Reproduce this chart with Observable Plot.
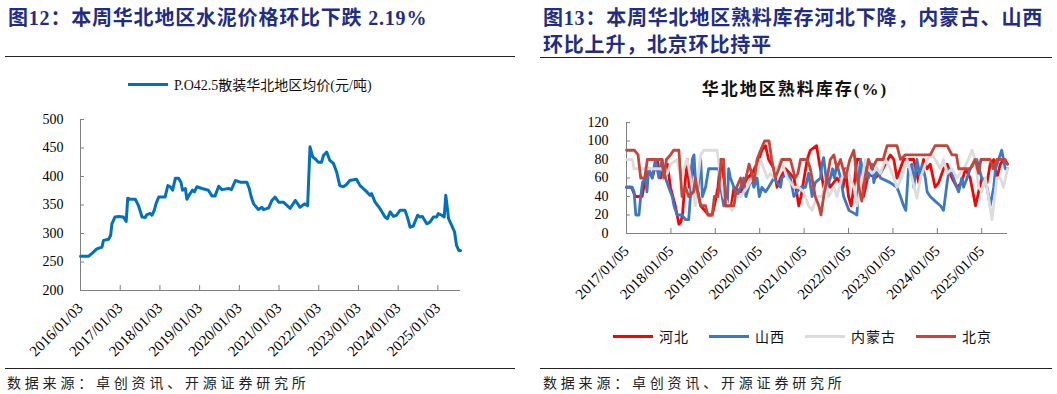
<!DOCTYPE html>
<html><head><meta charset="utf-8">
<script src="https://cdn.jsdelivr.net/npm/d3@7"></script>
<script src="https://cdn.jsdelivr.net/npm/@observablehq/plot@0.6"></script>
<style>
body{margin:0;background:#fff;width:1057px;height:394px;position:relative;overflow:hidden;font-family:"Liberation Serif","Noto Sans CJK SC",serif;}
.abs{position:absolute;white-space:nowrap;}
.title{font-family:"Liberation Serif","Noto Sans CJK SC",serif;font-weight:bold;color:#1f2d86;font-size:20px;letter-spacing:0.8px;line-height:27px;}
.rule{position:absolute;height:0;border-top:1.3px solid #222;}
.src{font-size:14px;letter-spacing:3.8px;color:#222;}
.leg{font-size:14px;color:#111;display:flex;align-items:center;}
.sw{display:inline-block;width:40px;height:3px;margin-right:6px;}
</style></head><body>
<div class="abs title" style="left:8px;top:5px;">图12：本周华北地区水泥价格环比下跌 2.19%</div>
<div class="rule" style="left:5px;top:56px;width:510px;"></div>
<div class="abs leg" style="left:128px;top:74px;"><span class="sw" style="background:#0070C0"></span><span>P.O42.5散装华北地区均价(元/吨)</span></div>
<div id="left" class="abs" style="left:0;top:100px;"></div>
<div class="rule" style="left:5px;top:368px;width:510px;"></div>
<div class="abs src" style="left:7px;top:372px;">数据来源：卓创资讯、开源证券研究所</div>

<div class="abs title" style="left:543px;top:5px;width:512px;white-space:normal;">图13：本周华北地区熟料库存河北下降，内蒙古、山西环比上升，北京环比持平</div>
<div class="rule" style="left:540px;top:57px;width:512px;"></div>
<div class="abs" style="left:695px;top:75px;width:200px;text-align:center;font-weight:bold;font-size:17px;letter-spacing:2px;color:#111;">华北地区熟料库存(%)</div>
<div id="right" class="abs" style="left:530px;top:110px;"></div>
<div id="rleg" class="abs leg" style="left:613px;top:326px;"></div>
<div class="rule" style="left:540px;top:368px;width:512px;"></div>
<div class="abs src" style="left:543px;top:372px;">数据来源：卓创资讯、开源证券研究所</div>

<script>
// ---------- left chart data ----------
const cementYears = [2016.00,2016.20,2016.29,2016.41,2016.54,2016.58,2016.71,2016.76,2016.79,2016.87,2016.96,2017.08,2017.15,2017.19,2017.25,2017.38,2017.46,2017.55,2017.63,2017.67,2017.76,2017.80,2017.86,2017.90,2017.97,2018.13,2018.20,2018.26,2018.32,2018.39,2018.47,2018.53,2018.57,2018.64,2018.68,2018.76,2018.82,2018.87,2018.93,2019.06,2019.22,2019.31,2019.39,2019.48,2019.56,2019.73,2019.80,2019.90,2020.02,2020.19,2020.25,2020.30,2020.36,2020.48,2020.57,2020.61,2020.74,2020.82,2020.90,2020.99,2021.11,2021.28,2021.41,2021.53,2021.64,2021.72,2021.78,2021.85,2021.91,2021.99,2022.07,2022.12,2022.20,2022.28,2022.37,2022.45,2022.53,2022.62,2022.70,2022.78,2022.95,2023.04,2023.12,2023.21,2023.29,2023.33,2023.42,2023.54,2023.67,2023.73,2023.80,2023.88,2023.96,2024.05,2024.17,2024.24,2024.30,2024.38,2024.49,2024.55,2024.61,2024.72,2024.80,2024.89,2024.97,2025.01,2025.10,2025.16,2025.20,2025.27,2025.35,2025.42,2025.47,2025.53,2025.57];
const cementPrices = [260,260,265,273,276,288,290,297,317,329,330,329,321,362,360,360,349,329,328,333,335,332,341,352,364,364,384,382,376,397,397,390,376,379,360,370,376,373,382,379,376,366,366,383,377,379,377,393,390,390,379,364,352,342,346,342,345,358,364,355,355,344,358,346,352,349,452,434,431,425,425,437,443,428,423,408,384,382,386,393,395,384,379,373,367,370,355,344,329,326,338,330,332,341,341,327,311,313,332,329,330,317,320,329,329,335,332,329,367,326,314,303,279,270,270];
const leftTickYears = [2016,2017,2018,2019,2020,2021,2022,2023,2024,2025];
const leftTickLabels = ["2016/01/03","2017/01/03","2018/01/03","2019/01/03","2020/01/03","2021/01/03","2022/01/03","2023/01/03","2024/01/03","2025/01/03"];
const leftYTicks = [200,250,300,350,400,450,500];

// ---------- right chart data ----------
const seriesNames = ["河北","山西","内蒙古","北京"];
const seriesColors = ["#FF0000","#3B78C6","#DCDCDC","#C5453A"];
const hebeiYears = [2017.00,2017.05,2017.11,2017.20,2017.35,2017.39,2017.43,2017.50,2017.58,2017.69,2017.77,2017.80,2017.92,2017.99,2018.10,2018.14,2018.18,2018.22,2018.26,2018.31,2018.37,2018.41,2018.48,2018.55,2018.67,2018.85,2018.93,2018.98,2019.06,2019.12,2019.19,2019.27,2019.36,2019.42,2019.57,2019.72,2019.83,2019.98,2020.05,2020.13,2020.20,2020.32,2020.39,2020.47,2020.58,2020.77,2020.83,2020.88,2020.93,2021.07,2021.14,2021.28,2021.33,2021.44,2021.52,2021.59,2021.74,2021.88,2021.93,2022.00,2022.06,2022.12,2022.19,2022.27,2022.34,2022.45,2022.60,2022.72,2022.83,2022.94,2023.02,2023.09,2023.24,2023.47,2023.58,2023.69,2023.77,2023.84,2023.95,2024.03,2024.14,2024.22,2024.33,2024.44,2024.55,2024.63,2024.74,2024.82,2024.86,2024.93,2025.00,2025.12,2025.19,2025.27,2025.34,2025.42,2025.49,2025.58];
const hebeiValues = [50,50,50,40,40,50,60,70,60,80,60,70,75,50,30,20,10,12,20,50,80,50,75,60,30,20,20,30,50,80,60,30,30,50,45,60,65,80,90,95,80,70,50,60,70,60,45,30,40,80,90,95,80,50,60,50,60,50,70,40,30,50,80,80,40,65,60,65,75,85,80,60,80,80,55,80,70,75,50,55,70,75,60,50,55,70,60,40,30,45,60,55,75,80,60,75,80,75];
const shanxiYears = [2017.00,2017.13,2017.17,2017.21,2017.28,2017.32,2017.36,2017.43,2017.46,2017.50,2017.58,2017.65,2017.73,2017.80,2017.88,2017.95,2018.03,2018.07,2018.14,2018.25,2018.33,2018.40,2018.44,2018.48,2018.52,2018.55,2018.59,2018.63,2018.67,2018.71,2018.78,2018.85,2019.08,2019.12,2019.19,2019.27,2019.30,2019.34,2019.42,2019.49,2019.57,2019.64,2019.69,2019.75,2019.81,2019.87,2019.94,2019.99,2020.05,2020.13,2020.20,2020.32,2020.39,2020.47,2020.50,2020.62,2020.69,2020.77,2020.84,2020.92,2021.03,2021.10,2021.18,2021.25,2021.37,2021.40,2021.44,2021.52,2021.59,2021.64,2021.68,2021.74,2021.82,2021.89,2021.97,2022.01,2022.12,2022.19,2022.23,2022.27,2022.34,2022.38,2022.45,2022.53,2022.57,2022.64,2022.72,2022.94,2023.09,2023.17,2023.24,2023.29,2023.35,2023.43,2023.47,2023.54,2023.62,2023.66,2023.73,2023.77,2023.84,2023.95,2024.07,2024.14,2024.22,2024.27,2024.33,2024.40,2024.48,2024.55,2024.59,2024.67,2024.74,2024.82,2024.89,2024.94,2025.00,2025.12,2025.19,2025.27,2025.31,2025.38,2025.45,2025.53,2025.58];
const shanxiValues = [50,50,45,20,20,40,55,60,45,70,60,80,60,80,60,50,40,30,20,20,15,15,40,80,85,60,40,60,80,40,50,70,70,50,30,30,70,60,50,40,50,60,40,50,60,50,60,40,50,45,50,60,55,50,60,65,60,40,45,50,50,65,40,55,60,75,82,50,60,70,60,75,60,40,30,25,22,20,60,80,60,75,60,75,55,70,60,55,50,40,30,25,70,75,50,80,60,75,60,45,40,35,30,25,55,70,65,55,45,60,50,60,70,75,80,70,60,50,30,50,70,80,90,70,70];
const neimengYears = [2017.00,2017.13,2017.17,2017.77,2017.92,2017.99,2018.14,2018.22,2018.29,2018.37,2018.44,2018.52,2018.55,2018.61,2018.67,2018.74,2019.04,2019.12,2019.19,2019.30,2019.38,2019.45,2019.57,2019.72,2019.83,2019.94,2020.02,2020.09,2020.17,2020.24,2020.32,2020.47,2020.62,2020.77,2020.88,2020.99,2021.10,2021.18,2021.29,2021.40,2021.48,2021.55,2021.67,2021.74,2021.85,2021.97,2022.04,2022.12,2022.19,2022.27,2022.38,2022.45,2022.53,2022.64,2022.72,2022.83,2022.94,2023.09,2023.20,2023.32,2023.43,2023.54,2023.62,2023.77,2023.88,2023.95,2024.07,2024.14,2024.22,2024.33,2024.44,2024.52,2024.59,2024.70,2024.78,2024.85,2024.93,2025.00,2025.08,2025.15,2025.23,2025.27,2025.34,2025.42,2025.49,2025.58];
const neimengValues = [80,80,70,70,65,75,80,60,70,80,60,40,30,60,85,90,90,60,40,30,25,40,40,50,60,65,80,70,60,65,60,80,60,50,50,45,30,25,40,40,55,40,50,40,60,70,60,50,30,50,80,70,65,70,65,80,70,50,60,80,60,38,60,80,85,80,70,80,65,70,60,65,70,80,90,80,50,45,60,40,15,30,60,60,50,70];
const beijingYears = [2017.00,2017.18,2017.26,2017.32,2017.41,2017.47,2017.80,2017.84,2017.90,2017.99,2018.06,2018.18,2018.25,2018.33,2018.40,2018.51,2018.55,2018.60,2018.67,2018.78,2018.83,2018.93,2018.98,2019.06,2019.10,2019.13,2019.19,2019.23,2019.42,2019.48,2019.57,2019.61,2019.69,2019.76,2019.82,2019.87,2019.94,2020.02,2020.11,2020.21,2020.27,2020.35,2020.43,2020.50,2020.69,2020.80,2020.86,2020.92,2021.07,2021.14,2021.25,2021.33,2021.38,2021.44,2021.52,2021.59,2021.67,2021.74,2021.82,2021.93,2022.03,2022.12,2022.19,2022.30,2022.38,2022.45,2022.53,2022.64,2022.78,2022.87,2023.09,2023.17,2023.28,2023.84,2023.95,2024.22,2024.33,2024.43,2024.48,2024.74,2024.85,2024.93,2024.98,2025.19,2025.26,2025.34,2025.53,2025.58];
const beijingValues = [90,90,85,60,60,80,80,60,80,85,90,90,40,50,40,45,60,45,30,30,20,20,40,40,60,80,80,30,30,50,60,50,60,75,65,55,80,90,100,100,80,60,70,80,80,60,65,80,80,70,40,30,20,40,60,80,85,70,80,60,80,90,60,35,60,80,70,80,80,95,95,80,85,85,95,95,85,85,70,70,80,65,80,80,70,80,80,75];
const rightTickYears = [2017,2018,2019,2020,2021,2022,2023,2024,2025];
const rightTickLabels = ["2017/01/05","2018/01/05","2019/01/05","2020/01/05","2021/01/05","2022/01/05","2023/01/05","2024/01/05","2025/01/05"];
const rightYTicks = [0,20,40,60,80,100,120];

const axisColor = "#808080";
const baseStyle = {fontFamily:"Liberation Serif", fontSize:"14px", color:"#000", background:"transparent", overflow:"visible"};

// left chart
const cement = cementYears.map((t,i)=>({t, v: cementPrices[i]}));
const L = {w:520,h:270,ml:80,mr:60,mt:19,mb:80};
const leftPlot = Plot.plot({
  width:L.w, height:L.h, marginLeft:L.ml, marginRight:L.mr, marginTop:L.mt, marginBottom:L.mb,
  style: baseStyle,
  x:{domain:[2016,2025.57], label:null},
  y:{domain:[200,500], label:null},
  marks:[
    Plot.axisY({ticks:leftYTicks, tickSize:0, tickPadding:17, tickFormat:d=>String(d), label:null}),
    Plot.axisX({ticks:leftTickYears, tickSize:0, tickPadding:15, tickRotate:-45, fontSize:15, tickFormat:d=>leftTickLabels[leftTickYears.indexOf(d)], label:null}),
    Plot.ruleY(leftYTicks, {stroke:axisColor, insetRight:L.w-L.ml-L.mr-4}),
    Plot.ruleX(leftTickYears, {stroke:axisColor, insetTop:L.h-L.mt-L.mb-5}),
    Plot.ruleX([2016], {stroke:axisColor}),
    Plot.ruleY([200], {stroke:axisColor}),
    Plot.line(cement, {x:"t", y:"v", stroke:"#0070C0", strokeWidth:3, strokeLinejoin:"round"})
  ]
});
document.getElementById("left").appendChild(leftPlot);

// right chart
const allYears = [hebeiYears, shanxiYears, neimengYears, beijingYears];
const allValues = [hebeiValues, shanxiValues, neimengValues, beijingValues];
const rows = [];
seriesNames.forEach((name, k) => {
  allYears[k].forEach((t,i)=>rows.push({name, t, v: allValues[k][i]}));
});
const R = {w:500,h:200,ml:96,mr:23,mt:12,mb:77};
const rightPlot = Plot.plot({
  width:R.w, height:R.h, marginLeft:R.ml, marginRight:R.mr, marginTop:R.mt, marginBottom:R.mb,
  style: baseStyle,
  x:{domain:[2017,2025.58], label:null},
  y:{domain:[0,120], label:null},
  color:{domain:seriesNames, range:seriesColors},
  marks:[
    Plot.axisY({ticks:rightYTicks, tickSize:0, tickPadding:18, tickFormat:d=>String(d), label:null}),
    Plot.axisX({ticks:rightTickYears, tickSize:0, tickPadding:15, tickRotate:-45, fontSize:15, tickFormat:d=>rightTickLabels[rightTickYears.indexOf(d)], label:null}),
    Plot.ruleY(rightYTicks, {stroke:axisColor, insetRight:R.w-R.ml-R.mr-4}),
    Plot.ruleX(rightTickYears, {stroke:axisColor, insetTop:R.h-R.mt-R.mb-5}),
    Plot.ruleX([2017], {stroke:axisColor}),
    Plot.ruleY([0], {stroke:axisColor}),
    Plot.line(rows, {x:"t", y:"v", z:"name", stroke:"name", strokeWidth:2.8, strokeLinejoin:"round"})
  ]
});
document.getElementById("right").appendChild(rightPlot);

// right legend
const rleg = document.getElementById("rleg");
seriesNames.forEach((name,k)=>{
  const sw = document.createElement("span"); sw.className="sw"; sw.style.background=seriesColors[k];
  const tx = document.createElement("span"); tx.textContent=name; tx.style.letterSpacing="1px"; tx.style.marginRight = "20px";
  rleg.appendChild(sw); rleg.appendChild(tx);
});
</script>
</body></html>
